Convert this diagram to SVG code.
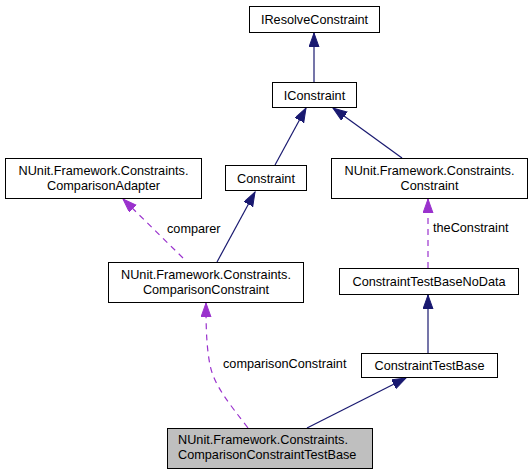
<svg xmlns="http://www.w3.org/2000/svg" width="532" height="475" viewBox="0 0 532 475">
<style>
.box{fill:#ffffff;stroke:#000000;stroke-width:1}
.cur{fill:#bfbfbf;stroke:#000000;stroke-width:1}
text{font-family:"Liberation Sans",Arial,sans-serif;font-size:12.7px;fill:#000000}
.c{text-anchor:middle}
.inh{stroke:#191970;stroke-width:1.2;fill:none}
.use{stroke:#9a32cd;stroke-width:1.2;fill:none;stroke-dasharray:6,5}
</style>
<defs>
<marker id="ah" markerUnits="userSpaceOnUse" markerWidth="15" markerHeight="11" refX="14" refY="5" orient="auto">
<path d="M0,0 L14,5 L0,10 z" fill="#191970" stroke="#191970" stroke-width="1"/>
</marker>
<marker id="ap" markerUnits="userSpaceOnUse" markerWidth="15" markerHeight="11" refX="14" refY="5" orient="auto">
<path d="M0,0 L14,5 L0,10 z" fill="#9a32cd" stroke="#9a32cd" stroke-width="1"/>
</marker>
</defs>
<g id="connectors">
<line class="inh" x1="314" y1="82" x2="314" y2="33" marker-end="url(#ah)"/>
<line class="inh" x1="275" y1="165" x2="306" y2="108" marker-end="url(#ah)"/>
<line class="inh" x1="402" y1="158" x2="333" y2="108" marker-end="url(#ah)"/>
<line class="inh" x1="217" y1="262" x2="255" y2="192" marker-end="url(#ah)"/>
<line class="use" x1="183" y1="258" x2="123" y2="199" marker-end="url(#ap)"/>
<text x="167" y="233">comparer</text>
<line class="use" x1="428" y1="268" x2="428" y2="199" marker-end="url(#ap)"/>
<text x="433" y="232">theConstraint</text>
<line class="inh" x1="428" y1="353" x2="428" y2="295" marker-end="url(#ah)"/>
<line class="inh" x1="307" y1="428" x2="406" y2="378" marker-end="url(#ah)"/>
<path class="use" d="M248,428 C228,402 214,385 210,365 C206,345 206,320 206,303" marker-end="url(#ap)"/>
<text x="223" y="368">comparisonConstraint</text>
</g>
<g id="IResolveConstraint">
<rect class="box" x="249.5" y="6.5" width="130" height="26"/>
<text class="c" x="314.5" y="24">IResolveConstraint</text>
</g>
<g id="IConstraint">
<rect class="box" x="272.5" y="82.5" width="84" height="25"/>
<text class="c" x="314.5" y="99.5">IConstraint</text>
</g>
<g id="Constraint">
<rect class="box" x="225.5" y="165.5" width="81" height="25"/>
<text class="c" x="266" y="182.5">Constraint</text>
</g>
<g id="NUnitConstraint">
<rect class="box" x="331.5" y="158.5" width="196" height="40"/>
<text class="c" x="429.5" y="174.5">NUnit.Framework.Constraints.</text>
<text class="c" x="429.5" y="189.5">Constraint</text>
</g>
<g id="ComparisonAdapter">
<rect class="box" x="5.5" y="158.5" width="196" height="40"/>
<text class="c" x="103.5" y="174.5">NUnit.Framework.Constraints.</text>
<text class="c" x="103.5" y="189.5">ComparisonAdapter</text>
</g>
<g id="ComparisonConstraint">
<rect class="box" x="108.5" y="262.5" width="195" height="40"/>
<text class="c" x="206" y="278.5">NUnit.Framework.Constraints.</text>
<text class="c" x="206" y="293.5">ComparisonConstraint</text>
</g>
<g id="ConstraintTestBaseNoData">
<rect class="box" x="339.5" y="268.5" width="179" height="26"/>
<text class="c" x="429" y="286">ConstraintTestBaseNoData</text>
</g>
<g id="ConstraintTestBase">
<rect class="box" x="361.5" y="353.5" width="136" height="24"/>
<text class="c" x="429.5" y="370">ConstraintTestBase</text>
</g>
<g id="ComparisonConstraintTestBase">
<rect class="cur" x="167.5" y="428.5" width="205" height="40"/>
<text x="178" y="444">NUnit.Framework.Constraints.</text>
<text x="178" y="459">ComparisonConstraintTestBase</text>
</g>
</svg>
